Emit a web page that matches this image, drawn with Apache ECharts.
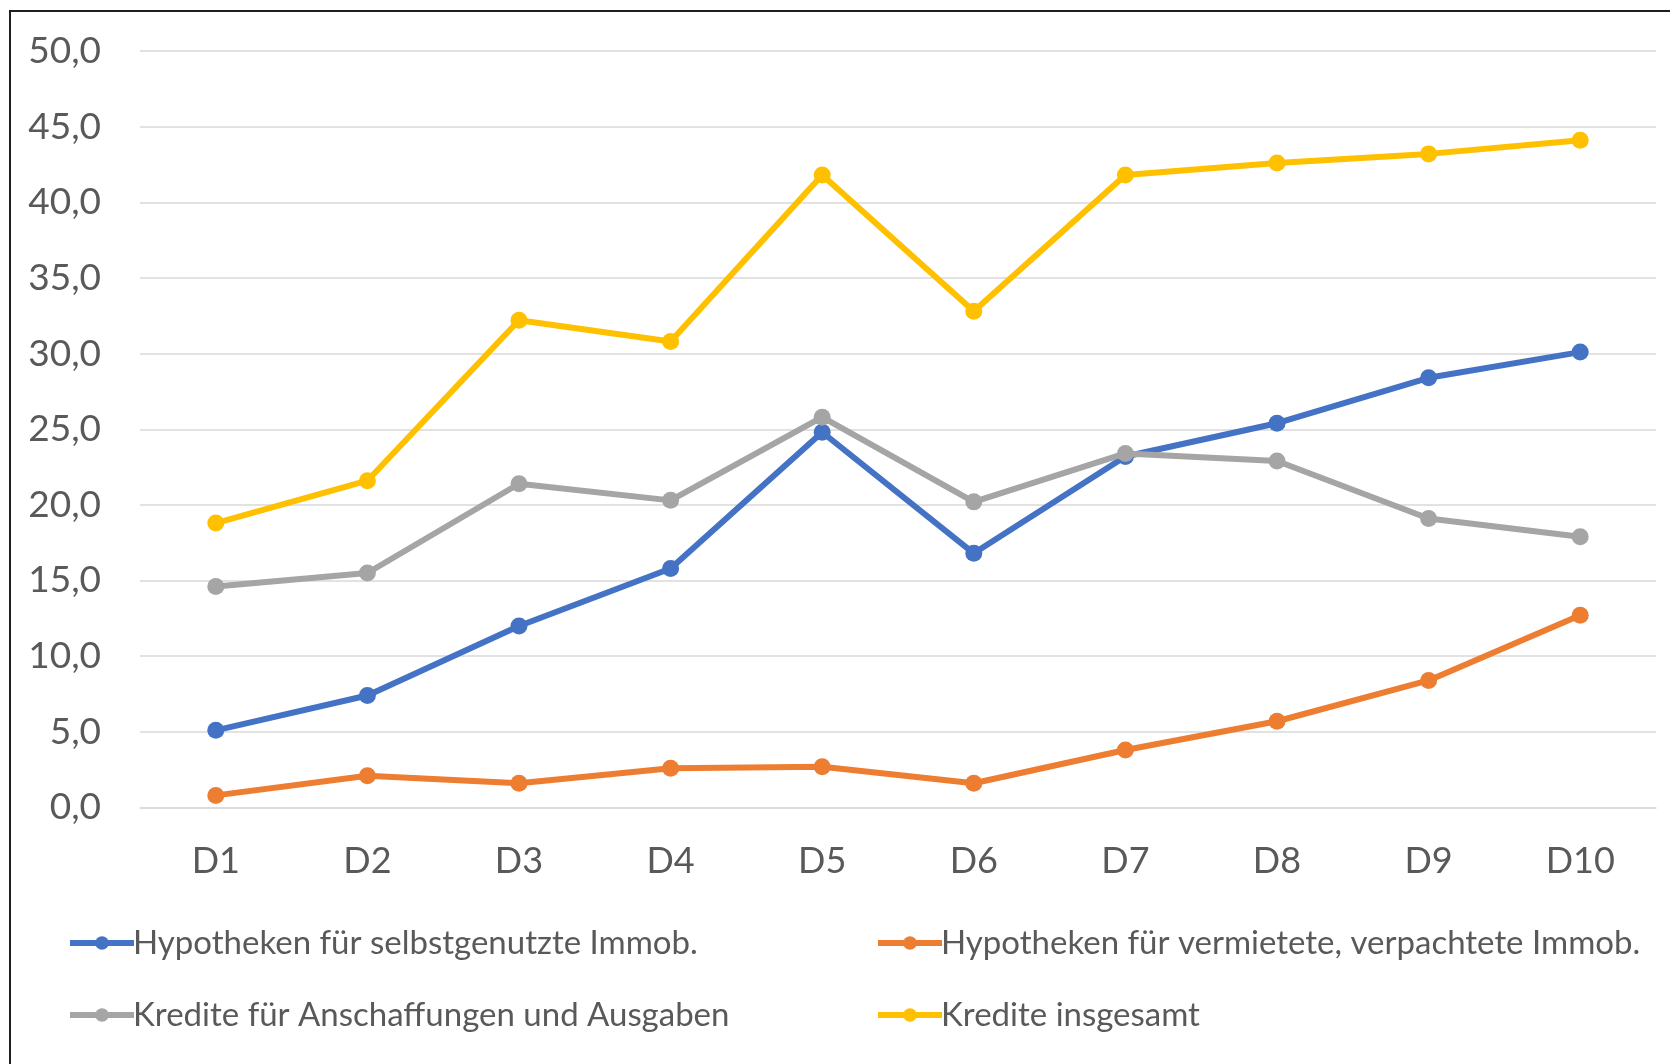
<!DOCTYPE html>
<html>
<head>
<meta charset="utf-8">
<script src="https://cdn.jsdelivr.net/npm/echarts@6/dist/echarts.min.js"></script>
<style>
html, body { margin: 0; padding: 0; background: #fff; }
#chart { width: 1670px; height: 1064px; }
</style>
</head>
<body>
<div id="chart"></div>
<script>
var categories = ['D1', 'D2', 'D3', 'D4', 'D5', 'D6', 'D7', 'D8', 'D9', 'D10'];
var seriesNames = [
    'Hypotheken für selbstgenutzte Immob.',
    'Hypotheken für vermietete, verpachtete Immob.',
    'Kredite für Anschaffungen und Ausgaben',
    'Kredite insgesamt'
];
var selbstgenutzt = [5.1, 7.4, 12.0, 15.8, 24.8, 16.8, 23.2, 25.4, 28.4, 30.1];
var vermietet = [0.8, 2.1, 1.6, 2.6, 2.7, 1.6, 3.8, 5.7, 8.4, 12.7];
var anschaffungen = [14.6, 15.5, 21.4, 20.3, 25.8, 20.2, 23.4, 22.9, 19.1, 17.9];
var insgesamt = [18.8, 21.6, 32.2, 30.8, 41.8, 32.8, 41.8, 42.6, 43.2, 44.1];
var colors = ['#4472C4', '#ED7D31', '#A5A5A5', '#FFC000'];

var font = 'Lato, "Liberation Sans", sans-serif';
var textColor = '#595959';

function makeSeries(name, data, i) {
    return {
        name: name,
        type: 'line',
        data: data,
        symbol: 'circle',
        symbolSize: 17,
        itemStyle: { color: colors[i] },
        lineStyle: { width: 6, color: colors[i] },
        emphasis: { disabled: true },
        z: 2 + i
    };
}

// one legend per item so the two columns line up like the original
var legendPos = [
    { left: 67, top: 922 },
    { left: 875, top: 922 },
    { left: 67, top: 994 },
    { left: 875, top: 994 }
];
var legends = seriesNames.map(function (n, i) {
    return {
        data: [n],
        left: legendPos[i].left,
        top: legendPos[i].top,
        padding: 0,
        itemWidth: 64,
        itemHeight: 17,
        selectedMode: false,
        lineStyle: { width: 6 },
        textStyle: { fontFamily: font, fontSize: 33, color: textColor, lineHeight: 42, padding: [0, 0, 0, -6] }
    };
});

var option = {
    animation: false,
    backgroundColor: '#fff',
    graphic: [{
        type: 'rect',
        shape: { x: 10, y: 11, width: 1700, height: 1100 },
        style: { fill: 'none', stroke: '#1e1e1e', lineWidth: 2 },
        silent: true
    }],
    legend: legends,
    grid: { left: 140, right: 14, top: 51, bottom: 256.5, containLabel: false },
    xAxis: {
        type: 'category',
        data: categories,
        boundaryGap: true,
        axisLine: { show: true, lineStyle: { color: '#D9D9D9', width: 1.5 } },
        axisTick: { show: false },
        axisLabel: { fontFamily: font, fontSize: 36, color: textColor, margin: 36 }
    },
    yAxis: {
        type: 'value',
        min: 0,
        max: 50,
        interval: 5,
        axisLine: { show: false },
        axisTick: { show: false },
        splitLine: { lineStyle: { color: '#D9D9D9', width: 1.5 } },
        axisLabel: {
            fontFamily: font, fontSize: 37, color: textColor, margin: 39,
            formatter: function (v) { return v.toFixed(1).replace('.', ','); }
        }
    },
    series: [
        makeSeries(seriesNames[0], selbstgenutzt, 0),
        makeSeries(seriesNames[1], vermietet, 1),
        makeSeries(seriesNames[2], anschaffungen, 2),
        makeSeries(seriesNames[3], insgesamt, 3)
    ]
};

echarts.init(document.getElementById('chart')).setOption(option);
</script>
</body>
</html>
